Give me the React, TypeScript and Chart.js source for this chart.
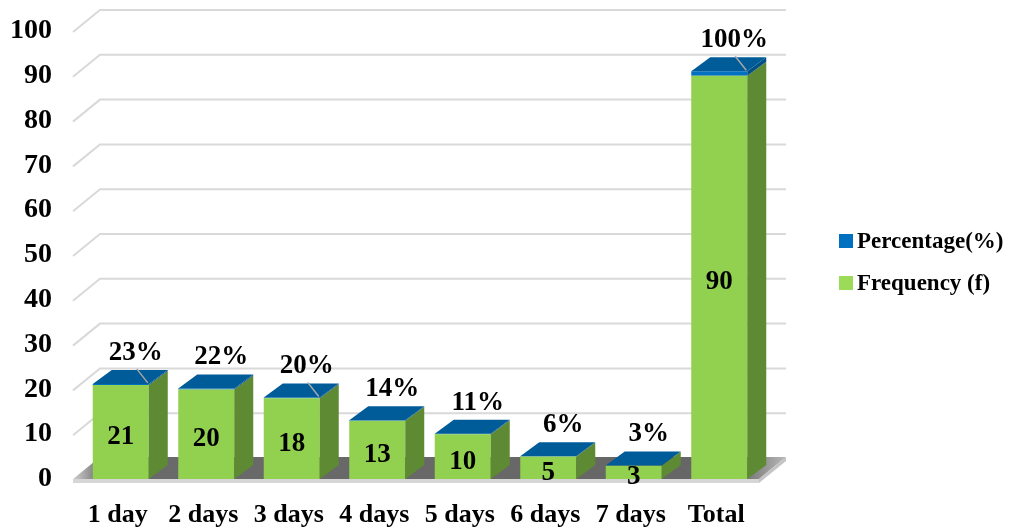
import React, { useEffect, useRef } from "react";
import { Chart, registerables } from "chart.js";

Chart.register(...registerables);

// ---- data ----
const CATEGORIES = ["1 day", "2 days", "3 days", "4 days", "5 days", "6 days", "7 days", "Total"];
const FREQUENCY = [21, 20, 18, 13, 10, 5, 3, 90];
const PERCENTAGE = [23, 22, 20, 14, 11, 6, 3, 100];
const LEADER_LINES = [true, false, true, false, false, false, false, true];
const Y_MIN = 0;
const Y_MAX = 100;
const Y_STEP = 10;

// ---- style ----
const SERIF = "'Liberation Serif', 'Times New Roman', serif";
const GREEN = "#92D050";
const GREEN_SIDE = "#5E8A33";
const BLUE = "#0070C0";
const BLUE_TOP = "#005B99";
const BAR_DX = 19;
const BAR_DY = -14;
const WALL_DX = 27;
const WALL_DY = -22;

function poly(ctx: CanvasRenderingContext2D, pts: number[][]) {
  ctx.beginPath();
  ctx.moveTo(pts[0][0], pts[0][1]);
  for (let i = 1; i < pts.length; i++) ctx.lineTo(pts[i][0], pts[i][1]);
  ctx.closePath();
  ctx.fill();
}

const threeD = {
  id: "threeD",
  beforeDatasetsDraw(chart: any) {
    const { ctx, chartArea, scales } = chart;
    const ys = scales.y;
    const left = chartArea.left - 5;
    const right = chartArea.right - 3;
    ctx.save();
    // walls / gridlines
    ctx.strokeStyle = "#d9d9d9";
    ctx.lineWidth = 2;
    ys.ticks.forEach((t: any) => {
      if (t.value === 0) return;
      const py = ys.getPixelForValue(t.value) + 1;
      ctx.beginPath();
      ctx.moveTo(left, py);
      ctx.lineTo(left + WALL_DX, py + WALL_DY);
      ctx.lineTo(right + WALL_DX, py + WALL_DY);
      ctx.stroke();
    });
    // floor
    const y0 = ys.getPixelForValue(0);
    const g = ctx.createLinearGradient(left, 0, right + WALL_DX, 0);
    g.addColorStop(0, "#d0d0d0");
    g.addColorStop(0.04, "#6a6a6a");
    g.addColorStop(0.93, "#666666");
    g.addColorStop(1, "#b8b8b8");
    ctx.fillStyle = g;
    poly(ctx, [
      [left, y0],
      [left + WALL_DX, y0 + WALL_DY],
      [right + WALL_DX, y0 + WALL_DY],
      [right, y0],
    ]);
    ctx.fillStyle = "#d6d6d6";
    ctx.fillRect(left, y0, right - left, 4);
    ctx.fillStyle = "#c4c4c4";
    poly(ctx, [
      [right, y0],
      [right + WALL_DX, y0 + WALL_DY],
      [right + WALL_DX, y0 + WALL_DY + 4],
      [right, y0 + 4],
    ]);
    ctx.restore();
  },
  afterDatasetsDraw(chart: any) {
    const { ctx } = chart;
    const m0 = chart.getDatasetMeta(0);
    const m1 = chart.getDatasetMeta(1);
    ctx.save();
    m0.data.forEach((bar: any, i: number) => {
      const p = m1.data[i];
      const top = p.y;
      const fTop = bar.y;
      const base = bar.base;
      const xl = bar.x - bar.width / 2;
      const xr = bar.x + bar.width / 2;
      ctx.fillStyle = GREEN_SIDE;
      poly(ctx, [
        [xr, fTop],
        [xr + BAR_DX, fTop + BAR_DY],
        [xr + BAR_DX, base + BAR_DY],
        [xr, base],
      ]);
      ctx.fillStyle = "#004F86";
      poly(ctx, [
        [xr, top],
        [xr + BAR_DX, top + BAR_DY],
        [xr + BAR_DX, fTop + BAR_DY],
        [xr, fTop],
      ]);
      ctx.fillStyle = BLUE_TOP;
      poly(ctx, [
        [xl, top],
        [xl + BAR_DX, top + BAR_DY],
        [xr + BAR_DX, top + BAR_DY],
        [xr, top],
      ]);
      // frequency label
      ctx.fillStyle = "#000";
      ctx.textAlign = "center";
      ctx.textBaseline = "middle";
      ctx.font = `bold 27px ${SERIF}`;
      ctx.fillText(String(FREQUENCY[i]), bar.x, (fTop + base) / 2 + 5);
      // percentage label
      ctx.fillText(`${PERCENTAGE[i]}%`, bar.x + 15, top - 31);
      if (LEADER_LINES[i]) {
        ctx.strokeStyle = "#a6a6a6";
        ctx.lineWidth = 1.5;
        ctx.beginPath();
        ctx.moveTo(bar.x + 16, top - 15);
        ctx.lineTo(xr - 1, top - 1);
        ctx.stroke();
      }
    });
    ctx.restore();
  },
  afterDraw(chart: any) {
    const { ctx, chartArea } = chart;
    const ds = chart.data.datasets;
    const order = [1, 0];
    const bx = chartArea.right + 77;
    const cy = 262;
    ctx.save();
    ctx.font = `bold 23px ${SERIF}`;
    ctx.textAlign = "left";
    ctx.textBaseline = "middle";
    order.forEach((di, k) => {
      const y = cy + (k === 0 ? -21 : 21);
      ctx.fillStyle = di === 1 ? BLUE : "#9BDB58";
      ctx.fillRect(bx, y - 7, 14, 14);
      ctx.fillStyle = "#000";
      ctx.fillText(ds[di].label, bx + 18, y + 1);
    });
    ctx.restore();
  },
};

export default function App() {
  const ref = useRef<HTMLCanvasElement | null>(null);
  useEffect(() => {
    if (!ref.current) return;
    const chart = new Chart(ref.current, {
      type: "bar",
      data: {
        labels: CATEGORIES,
        datasets: [
          {
            label: "Frequency (f)",
            data: FREQUENCY,
            backgroundColor: GREEN,
            borderWidth: 0,
            barPercentage: 0.655,
            categoryPercentage: 1,
          },
          {
            label: "Percentage(%)",
            data: PERCENTAGE.map((v) => v / 100),
            backgroundColor: BLUE,
            borderWidth: 0,
            barPercentage: 0.655,
            categoryPercentage: 1,
          },
        ],
      },
      options: {
        animation: false,
        responsive: true,
        maintainAspectRatio: false,
        events: [],
        layout: { padding: { top: 31, right: 248, left: 0, bottom: 0 } },
        plugins: { legend: { display: false }, tooltip: { enabled: false } },
        scales: {
          x: {
            stacked: true,
            grid: { display: false, drawTicks: false },
            border: { display: false },
            ticks: { color: "#000", padding: 21, labelOffset: -3, font: { family: SERIF, size: 26, weight: "bold" } },
            afterFit: (s: any) => {
              s.height = 50;
              s.paddingLeft = 0;
              s.paddingRight = 0;
            },
          },
          y: {
            stacked: true,
            min: Y_MIN,
            max: Y_MAX,
            grid: { display: false, drawTicks: false },
            border: { display: false },
            ticks: { stepSize: Y_STEP, color: "#000", padding: 26, font: { family: SERIF, size: 28, weight: "bold" } },
            afterFit: (s: any) => {
              s.width = 78;
              s.paddingTop = 17;
              s.paddingBottom = 17;
            },
          },
        },
      },
      plugins: [threeD],
    });
    return () => chart.destroy();
  }, []);
  return (
    <div style={{ position: "fixed", left: 0, top: 0, width: 1010, height: 529, background: "#fff" }}>
      <canvas ref={ref} />
    </div>
  );
}
